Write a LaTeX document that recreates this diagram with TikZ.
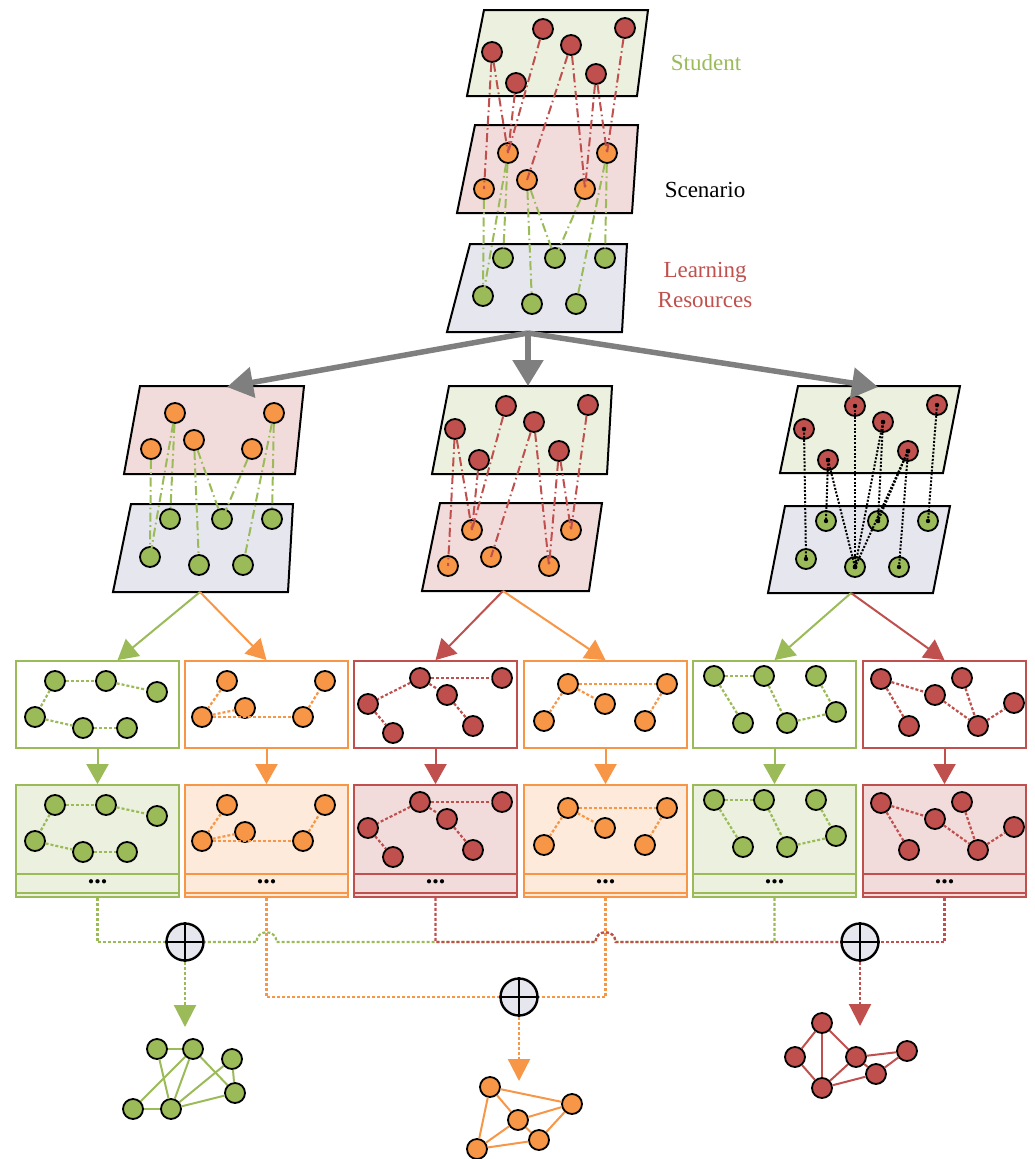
\documentclass[tikz,border=0pt]{standalone}
\usepackage{fontspec}
\setmainfont{Liberation Serif}
\usetikzlibrary{arrows.meta}
\definecolor{cred}{RGB}{192,80,77}
\definecolor{corange}{RGB}{247,150,70}
\definecolor{cgreen}{RGB}{155,187,89}
\definecolor{cgray}{RGB}{127,127,127}
\definecolor{pgreen}{RGB}{235,241,222}
\definecolor{ppink}{RGB}{242,220,219}
\definecolor{plav}{RGB}{230,230,238}
\definecolor{torange}{RGB}{253,234,218}

% layers of the multiplex network
\newcommand\stulayer[3]{\begin{scope}[shift={(#2,#3)}]
  \node[rv] (#1r1) at (492,52) {};
  \node[rv] (#1r2) at (516,83) {};
  \node[rv] (#1r3) at (543,29) {};
  \node[rv] (#1r4) at (571,45) {};
  \node[rv] (#1r5) at (596,74) {};
  \node[rv] (#1r6) at (625,28) {};
\end{scope}}
\newcommand\scnlayer[3]{\begin{scope}[shift={(#2,#3)}]
  \node[ov] (#1o1) at (508,153) {};
  \node[ov] (#1o2) at (607,153) {};
  \node[ov] (#1o3) at (527,180) {};
  \node[ov] (#1o4) at (484,189) {};
  \node[ov] (#1o5) at (585,189) {};
\end{scope}}
\newcommand\lrlayer[3]{\begin{scope}[shift={(#2,#3)}]
  \node[gv] (#1g1) at (503,258) {};
  \node[gv] (#1g2) at (555,258) {};
  \node[gv] (#1g3) at (605,258) {};
  \node[gv] (#1g4) at (483,296) {};
  \node[gv] (#1g5) at (532,304) {};
  \node[gv] (#1g6) at (576,304) {};
\end{scope}}
\newcommand\redlinks[2]{\foreach \ea/\eb in {1/4,1/1,2/1,3/1,4/3,4/5,5/5,5/2,6/2}
  {\draw[dashdot,cred] (#1r\ea) -- (#2o\eb.center);}}
\newcommand\greenlinks[2]{\foreach \ea/\eb in {4/4,1/4,1/1,3/5,3/2,5/2,2/6,2/3}
  {\draw[dashdot,cgreen] (#1o\ea) -- (#2g\eb.center);}}
\newcommand\blacklinks[2]{\foreach \ea/\eb in {1/4,2/1,2/5,3/5,4/2,4/5,5/2,5/5,5/6,6/3}
  {\draw[bdot] (#1r\ea.center) -- (#2g\eb.center);
   \fill (#1r\ea.center) circle[radius=2.2pt];
   \fill (#2g\eb.center) circle[radius=2.2pt];}}

% sub-graphs inside the row boxes
\newcommand\rowgraphs[2]{\begin{scope}[shift={(0,#2)}]
  \foreach \n/\x/\y in {1/55/681,2/106/681,3/157/692,4/35/717,5/83/728,6/127/728}
    \node[gv] (#1a\n) at (\x,\y) {};
  \foreach \ea/\eb in {1/2,2/3,1/4,4/5,5/6} \draw[edot,cgreen] (#1a\ea) -- (#1a\eb);
  \foreach \n/\x/\y in {1/227/681,2/325/681,3/245/708,4/202/717,5/303/717}
    \node[ov] (#1b\n) at (\x,\y) {};
  \foreach \ea/\eb in {1/4,4/3,4/5,5/2} \draw[edot,corange] (#1b\ea) -- (#1b\eb);
  \foreach \n/\x/\y in {1/420/678,2/502/678,3/447/695,4/368/704,5/393/733,6/473/726}
    \node[rv] (#1c\n) at (\x,\y) {};
  \foreach \ea/\eb in {1/2,1/3,1/4,4/5,3/6} \draw[edot,cred] (#1c\ea) -- (#1c\eb);
  \foreach \n/\x/\y in {1/568/684,2/667/684,3/605/704,4/544/721,5/645/721}
    \node[ov] (#1d\n) at (\x,\y) {};
  \foreach \ea/\eb in {1/2,1/3,1/4,2/5} \draw[edot,corange] (#1d\ea) -- (#1d\eb);
  \foreach \n/\x/\y in {1/714/676,2/764/676,3/816/676,4/836/712,5/743/723,6/787/723}
    \node[gv] (#1e\n) at (\x,\y) {};
  \foreach \ea/\eb in {1/2,1/5,2/6,3/4,6/4} \draw[edot,cgreen] (#1e\ea) -- (#1e\eb);
  \foreach \n/\x/\y in {1/881/679,2/962/678,3/935/695,4/1014/703,5/909/726,6/978/726}
    \node[rv] (#1f\n) at (\x,\y) {};
  \foreach \ea/\eb in {1/3,1/5,3/6,2/6,6/4} \draw[edot,cred] (#1f\ea) -- (#1f\eb);
\end{scope}}

\begin{document}
\begin{tikzpicture}[x=1pt,y=-1pt,
  vtx/.style={circle,draw=black,line width=1.8pt,minimum size=20pt,inner sep=0pt},
  rv/.style={vtx,fill=cred},
  ov/.style={vtx,fill=corange},
  gv/.style={vtx,fill=cgreen},
  plane/.style={draw=black,line width=2pt},
  dashdot/.style={line width=2pt,dash pattern=on 9pt off 3.5pt on 1.6pt off 3.5pt},
  bdot/.style={line width=2pt,dash pattern=on 2pt off 1.6pt,black},
  edot/.style={line width=2.2pt,dash pattern=on 3pt off 2pt},
  flow/.style={line width=2pt,-{Triangle[length=20pt,width=22pt]}},
  bigarrow/.style={draw=cgray,line width=5.5pt,-{Triangle[length=26pt,width=30pt]}},
  oplus/.style={circle,draw=black,line width=2.4pt,fill=plav,minimum size=37pt,inner sep=0pt},
  topbox/.style={draw,line width=1.8pt,fill=white,minimum width=163pt,minimum height=87pt,inner sep=0pt},
  lowbox/.style={draw,line width=1.8pt,minimum width=163pt,minimum height=112pt,inner sep=0pt},
  link/.style={line width=2pt},
  lbl/.style={font=\fontsize{23}{30}\selectfont,align=center}]
\useasboundingbox (0,0) rectangle (1034,1159);

% ---------- the three-layer stack ----------
\filldraw[plane,fill=pgreen] (484,10) -- (648,10) -- (637,96) -- (467,96) -- cycle;
\filldraw[plane,fill=ppink] (475,125) -- (638,125) -- (632,213) -- (457,213) -- cycle;
\filldraw[plane,fill=plav] (470,244) -- (627,244) -- (622,332) -- (447,332) -- cycle;
\stulayer{t}{0}{0}
\scnlayer{t}{0}{0}
\lrlayer{t}{0}{0}
\redlinks{t}{t}
\greenlinks{t}{t}

\node[lbl,text=cgreen] (nstu) at (706,63) {Student};
\node[lbl,text=black] (nscn) at (705,190) {Scenario};
\node[lbl,text=cred] (nlr) at (705,285) {Learning\\Resources};

% ---------- splitting into layer pairs ----------
\coordinate (hub) at (528,333);
\coordinate (gl) at (227,387);
\coordinate (gc) at (528,386);
\coordinate (gr) at (878,387);

% scenario / resources pair
\filldraw[plane,fill=ppink] (140,386) -- (304,386) -- (295,474) -- (124,474) -- cycle;
\filldraw[plane,fill=plav] (131,504) -- (293,504) -- (288,592) -- (113,592) -- cycle;
\scnlayer{l}{-333}{260}
\lrlayer{l}{-333}{261}
\greenlinks{l}{l}

% student / scenario pair
\filldraw[plane,fill=pgreen] (449,386) -- (612,386) -- (607,474) -- (432,474) -- cycle;
\filldraw[plane,fill=ppink] (440,503) -- (602,503) -- (589,591) -- (422,591) -- cycle;
\stulayer{c}{-37}{377}
\scnlayer{c}{-36}{377}
\redlinks{c}{c}

% student / resources pair
\filldraw[plane,fill=pgreen] (798,386) -- (960,386) -- (943,473) -- (780,473) -- cycle;
\filldraw[plane,fill=plav] (785,506) -- (950,506) -- (933,593) -- (768,593) -- cycle;
\stulayer{r}{312}{377}
\lrlayer{r}{323}{263}
\blacklinks{r}{r}

\draw[bigarrow] (hub) -- (gl);
\draw[bigarrow] (hub) -- (gc);
\draw[bigarrow] (hub) -- (gr);

% ---------- projected graphs ----------
\foreach \i/\cx/\col/\tint in {1/97.5/cgreen/pgreen,2/266.5/corange/torange,3/435.5/cred/ppink,
                               4/605.5/corange/torange,5/774.5/cgreen/pgreen,6/944.5/cred/ppink}{
  \node[topbox,draw=\col] (k\i) at (\cx,704.5) {};
  \node[lowbox,draw=\col,fill=\tint] (u\i) at (\cx,841) {};
  \draw[line width=1.8pt,\col] ([yshift=24pt]u\i.south west) -- ([yshift=24pt]u\i.south east);
  \draw[line width=1.8pt,\col] ([yshift=5pt]u\i.south west) -- ([yshift=5pt]u\i.south east);
  \node[font=\fontsize{26}{26}\selectfont\bfseries,inner sep=0pt] (dots\i) at ([yshift=16pt]u\i.south) {...};
  \draw[flow,\col] (k\i.south) -- (u\i.north);
}
\rowgraphs{p}{0}
\rowgraphs{q}{124}

\coordinate (lp) at (200,592);
\coordinate (cp) at (503,591);
\coordinate (rp) at (851,593);
\draw[flow,cgreen] (lp) -- ([xshift=20pt]k1.north);
\draw[flow,corange] (lp) -- (k2.north);
\draw[flow,cred] (cp) -- (k3.north);
\draw[flow,corange] (cp) -- (k4.north);
\draw[flow,cgreen] (rp) -- (k5.north);
\draw[flow,cred] (rp) -- (k6.north);

% ---------- fusion ----------
\node[oplus] (x1) at (185,942) {};
\node[oplus] (x2) at (519,997) {};
\node[oplus] (x3) at (860,942) {};
\foreach \k in {x1,x2,x3}
  \draw[line width=2.4pt] (\k.north) -- (\k.south) (\k.west) -- (\k.east);

\draw[edot,corange] (u2.south) |- (x2.west);
\draw[edot,corange] (u4.south) |- (x2.east);
\draw[edot,cgreen] (u1.south) |- (x1.west);
\draw[edot,cgreen] (u5.south) -- (774.5,942) -- (615.5,942)
   .. controls (615.5,929) and (595.5,929) .. (595.5,942) -- (276.5,942)
   .. controls (276.5,929) and (256.5,929) .. (256.5,942) -- (x1.east);
\draw[edot,cred] (u6.south) |- (x3.east);
\draw[edot,cred] (u3.south) -- (435.5,942) -- (595.5,942)
   .. controls (595.5,929) and (615.5,929) .. (615.5,942) -- (x3.west);

\coordinate (o1) at (185,1027);
\coordinate (o2) at (519,1081);
\coordinate (o3) at (860,1026);
\draw[edot,cgreen,-{Triangle[length=22pt,width=22pt]}] (x1) -- (o1);
\draw[edot,corange,-{Triangle[length=22pt,width=22pt]}] (x2) -- (o2);
\draw[edot,cred,-{Triangle[length=22pt,width=22pt]}] (x3) -- (o3);

% ---------- fused graphs ----------
\foreach \n/\x/\y in {1/157/1049,2/193/1049,3/232/1059,4/235/1093,5/133/1109,6/171/1109}
  \node[gv] (fg\n) at (\x,\y) {};
\foreach \ea/\eb in {1/2,1/6,2/5,2/6,2/4,3/6,3/4,5/6,6/4}
  \draw[link,cgreen] (fg\ea) -- (fg\eb);
\foreach \n/\x/\y in {1/490/1087,2/572/1104,3/518/1120,4/539/1140,5/477/1149}
  \node[ov] (fo\n) at (\x,\y) {};
\foreach \ea/\eb in {1/2,1/3,1/5,3/2,3/4,3/5,4/2,4/5}
  \draw[link,corange] (fo\ea) -- (fo\eb);
\foreach \n/\x/\y in {1/822/1023,2/795/1057,3/856/1057,4/907/1051,5/876/1074,6/822/1088}
  \node[rv] (fr\n) at (\x,\y) {};
\foreach \ea/\eb in {1/2,1/3,1/6,2/6,3/6,3/4,3/5,5/4,6/5}
  \draw[link,cred] (fr\ea) -- (fr\eb);
\end{tikzpicture}
\end{document}
